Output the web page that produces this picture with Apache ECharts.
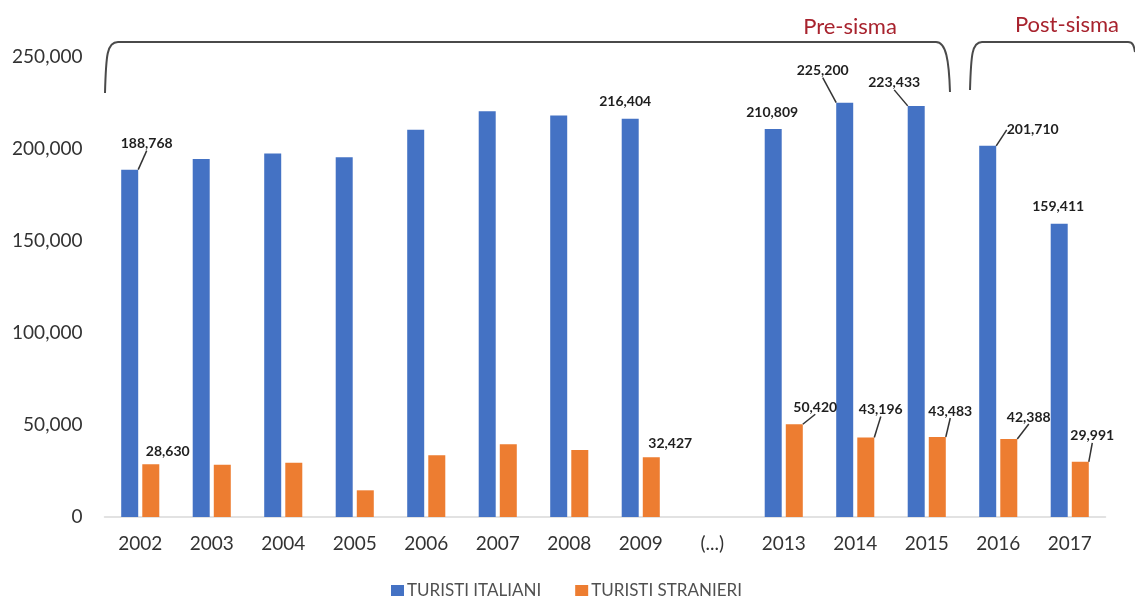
<!DOCTYPE html>
<html>
<head>
<meta charset="utf-8">
<script src="https://cdn.jsdelivr.net/npm/echarts@6/dist/echarts.min.js"></script>
<style>
html,body{margin:0;padding:0;background:#fff;}
#chart{width:1135px;height:599px;}
</style>
</head>
<body>
<div id="chart"></div>
<script>
// ---- data ----
const categories = ['2002','2003','2004','2005','2006','2007','2008','2009','(...)','2013','2014','2015','2016','2017'];
const turistiItaliani = [188768, 194500, 197500, 195500, 210500, 220500, 218200, 216404, null, 210809, 225200, 223433, 201710, 159411];
const turistiStranieri = [28630, 28400, 29500, 14500, 33500, 39500, 36400, 32427, null, 50420, 43196, 43483, 42388, 29991];
const yTicks = [0, 50000, 100000, 150000, 200000, 250000];
const seriesNames = ['TURISTI ITALIANI', 'TURISTI STRANIERI'];
const periodLabels = ['Pre-sisma', 'Post-sisma'];

// indices whose values are labelled in the original
const labelledItal = [0, 7, 9, 10, 11, 12, 13];
const labelledStran = [0, 7, 9, 10, 11, 12, 13];

// label placement (label centre relative to bar top centre) and leader line flag
const placeItal = {
  0: [17, -26, true], 7: [-5, -17, false], 9: [-1, -17, false], 10: [-22, -32, true],
  11: [-22, -23, true], 12: [45, -16, true], 13: [-1, -17, false]
};
const placeStran = {
  0: [17, -13, false], 7: [19, -14, false], 9: [21, -17, true], 10: [15, -28, true],
  11: [13, -26, true], 12: [20, -22, true], 13: [12, -26, true]
};

function buildData(values, labelled, place) {
  return values.map((v, i) => {
    if (v === null) return null;
    const on = labelled.indexOf(i) >= 0;
    return {
      value: v,
      label: { show: on },
      labelLine: { show: on && place[i][2] }
    };
  });
}

function layoutFor(place) {
  return function (params) {
    const p = place[params.dataIndex];
    if (!p) return {};
    const r = params.rect;
    return {
      x: r.x + r.width / 2 + p[0],
      y: r.y + p[1],
      align: 'center',
      verticalAlign: 'middle'
    };
  };
}

const fontFam = 'Lato, "Open Sans", sans-serif';
const labelStyle = {
  position: 'top',
  fontFamily: fontFam,
  fontWeight: 'bold',
  fontSize: 14,
  color: '#1f1f1f',
  formatter: p => p.value.toLocaleString('en-US')
};
const lineStyle = { lineStyle: { color: '#333333', width: 1.5 }, smooth: false };

const chart = echarts.init(document.getElementById('chart'), null, { renderer: 'canvas' });

const braceColor = '#4a4a4a';
const option = {
  animation: false,
  backgroundColor: '#ffffff',
  grid: { left: 104.5, right: 29.5, top: 57, bottom: 82, containLabel: false },
  legend: {
    data: seriesNames,
    left: 386,
    top: 577,
    itemWidth: 13,
    itemHeight: 11,
    itemGap: 34,
    icon: 'rect',
    textStyle: { fontFamily: fontFam, fontSize: 17, color: '#505050', padding: [0, 0, 0, -2] }
  },
  xAxis: {
    type: 'category',
    data: categories,
    axisLine: { show: true, lineStyle: { color: '#d9d9d9', width: 1.5 } },
    axisTick: { show: false },
    axisLabel: { fontFamily: fontFam, fontSize: 19, color: '#333333', margin: 17 }
  },
  yAxis: {
    type: 'value',
    min: yTicks[0],
    max: yTicks[yTicks.length - 1],
    interval: yTicks[1] - yTicks[0],
    splitLine: { show: false },
    axisLine: { show: false },
    axisTick: { show: false },
    axisLabel: { fontFamily: fontFam, fontSize: 19, color: '#333333', margin: 22 }
  },
  series: [
    {
      name: seriesNames[0],
      type: 'bar',
      barWidth: 17,
      barGap: '24%',
      itemStyle: { color: '#4472C4' },
      data: buildData(turistiItaliani, labelledItal, placeItal),
      label: labelStyle,
      labelLine: lineStyle,
      labelLayout: layoutFor(placeItal)
    },
    {
      name: seriesNames[1],
      type: 'bar',
      barWidth: 17,
      barGap: '24%',
      itemStyle: { color: '#ED7D31' },
      data: buildData(turistiStranieri, labelledStran, placeStran),
      label: labelStyle,
      labelLine: lineStyle,
      labelLayout: layoutFor(placeStran)
    }
  ],
  graphic: [
    // Pre-sisma brace
    { type: 'bezierCurve', shape: { x1: 105, y1: 93, cpx1: 106, cpy1: 55, cpx2: 107, cpy2: 42, x2: 118, y2: 42 },
      style: { stroke: braceColor, lineWidth: 2, fill: null } },
    { type: 'line', shape: { x1: 118, y1: 42, x2: 936, y2: 42 }, style: { stroke: braceColor, lineWidth: 2 } },
    { type: 'bezierCurve', shape: { x1: 936, y1: 42, cpx1: 946, cpy1: 42, cpx2: 949, cpy2: 60, x2: 950, y2: 92 },
      style: { stroke: braceColor, lineWidth: 2, fill: null } },
    // Post-sisma brace
    { type: 'bezierCurve', shape: { x1: 970, y1: 90, cpx1: 971, cpy1: 55, cpx2: 972, cpy2: 42, x2: 982, y2: 42 },
      style: { stroke: braceColor, lineWidth: 2, fill: null } },
    { type: 'line', shape: { x1: 982, y1: 42, x2: 1128, y2: 42 }, style: { stroke: braceColor, lineWidth: 2 } },
    { type: 'bezierCurve', shape: { x1: 1128, y1: 42, cpx1: 1133, cpy1: 42, cpx2: 1134, cpy2: 46, x2: 1135, y2: 52 },
      style: { stroke: braceColor, lineWidth: 2, fill: null } },
    { type: 'text', x: 850, y: 27,
      style: { text: periodLabels[0], fontFamily: fontFam, fontSize: 22, fill: '#A8232E', align: 'center', verticalAlign: 'middle' } },
    { type: 'text', x: 1067, y: 25,
      style: { text: periodLabels[1], fontFamily: fontFam, fontSize: 22, fill: '#A8232E', align: 'center', verticalAlign: 'middle' } }
  ]
};
chart.setOption(option);
</script>
</body>
</html>
